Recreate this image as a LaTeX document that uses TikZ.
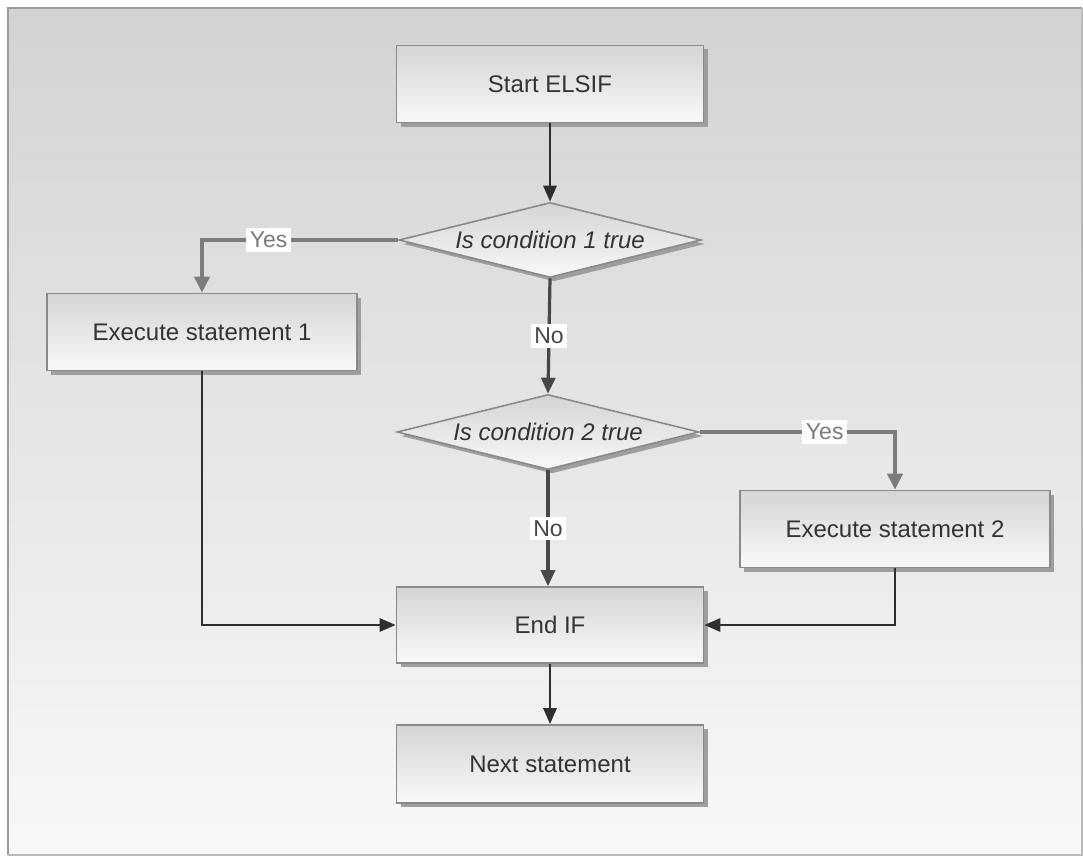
\documentclass[tikz,border=0pt]{standalone}
\usepackage{fontspec}
\setmainfont{Liberation Sans}
\usetikzlibrary{arrows.meta,shapes.geometric,shadows}

\definecolor{panelTop}{HTML}{D2D3D4}
\definecolor{panelBot}{HTML}{F8F8F8}
\definecolor{panelLine}{HTML}{9C9C9C}
\definecolor{boxTop}{HTML}{D4D5D6}
\definecolor{boxBot}{HTML}{F9F9F9}
\definecolor{boxLine}{HTML}{8A8A8A}
\definecolor{shadowGray}{HTML}{9E9E9E}
\definecolor{inkDark}{HTML}{2E2E2E}
\definecolor{inkNo}{HTML}{474747}
\definecolor{inkYes}{HTML}{7C7C7C}
\definecolor{txtDark}{HTML}{333333}

\tikzset{
  procbox/.style={rectangle, draw=boxLine, line width=1.6pt,
    top color=boxTop, bottom color=boxBot,
    minimum width=307pt, minimum height=77pt, inner sep=0pt,
    text=txtDark, font=\fontsize{24}{28}\selectfont,
    drop shadow={shadow xshift=4pt, shadow yshift=-4pt, fill=shadowGray, opacity=1}},
  decision/.style={diamond, draw=boxLine, line width=1.6pt,
    top color=boxTop, bottom color=boxBot,
    minimum width=302pt, minimum height=75pt, inner sep=0pt, aspect=4,
    text=txtDark, font=\fontsize{24}{28}\selectfont\itshape,
    drop shadow={shadow xshift=4pt, shadow yshift=-4pt, fill=shadowGray, opacity=1}},
  flow/.style={draw=inkDark, line width=2.8pt,
    -{Triangle[length=16pt,width=13pt]}},
  noflow/.style={draw=inkNo, line width=3.2pt,
    -{Triangle[length=16pt,width=14pt]}},
  yesflow/.style={draw=inkYes, line width=3.8pt,
    -{Triangle[length=16pt,width=15pt]}},
  yeslabel/.style={fill=white, inner sep=3.5pt, text=inkYes,
    font=\fontsize{23}{26}\selectfont},
  nolabel/.style={fill=white, inner sep=3.5pt, text=inkNo,
    font=\fontsize{23}{26}\selectfont},
}

\begin{document}
\begin{tikzpicture}[x=1pt,y=-1pt]
  % page and framed panel
  \useasboundingbox (0,0) rectangle (1083,856);
  \fill[white] (0,0) rectangle (1083,856);
  \shade[top color=panelTop, bottom color=panelBot] (8,8) rectangle (1082,855);
  \draw[panelLine, line width=2pt] (8,855) -- (8,8) -- (1082,8);
  \draw[panelLine!70, line width=1.2pt] (8,855) -- (1082,855) -- (1082,8);

  % steps and decisions
  \node[procbox] (start) at (550,84) {Start ELSIF};
  \node[decision] (cond1) at (550,240) {Is condition 1 true};
  \node[procbox, minimum width=310pt] (exec1) at (202,332) {Execute statement 1};
  \node[decision] (cond2) at (548,432) {Is condition 2 true};
  \node[procbox, minimum width=310pt] (exec2) at (895,529) {Execute statement 2};
  \node[procbox, minimum height=76pt] (endif) at (550,625) {End IF};
  \node[procbox, minimum height=78pt] (next) at (550,764) {Next statement};

  % connectors
  \draw[flow] (start.south) -- (cond1.north);
  \draw[yesflow] (cond1.west) -| node[pos=0.33, yeslabel] {Yes} (exec1.north);
  \draw[noflow] (cond1.south) -- node[nolabel] {No} (cond2.north);
  \draw[yesflow] (cond2.east) -| node[pos=0.32, yeslabel] {Yes} (exec2.north);
  \draw[noflow] (cond2.south) -- node[nolabel] {No} (cond2.south |- endif.north);
  \draw[flow] (exec1.south) |- (endif.west);
  \draw[flow] (exec2.south) |- (endif.east);
  \draw[flow] (endif.south) -- (next.north);
\end{tikzpicture}
\end{document}
